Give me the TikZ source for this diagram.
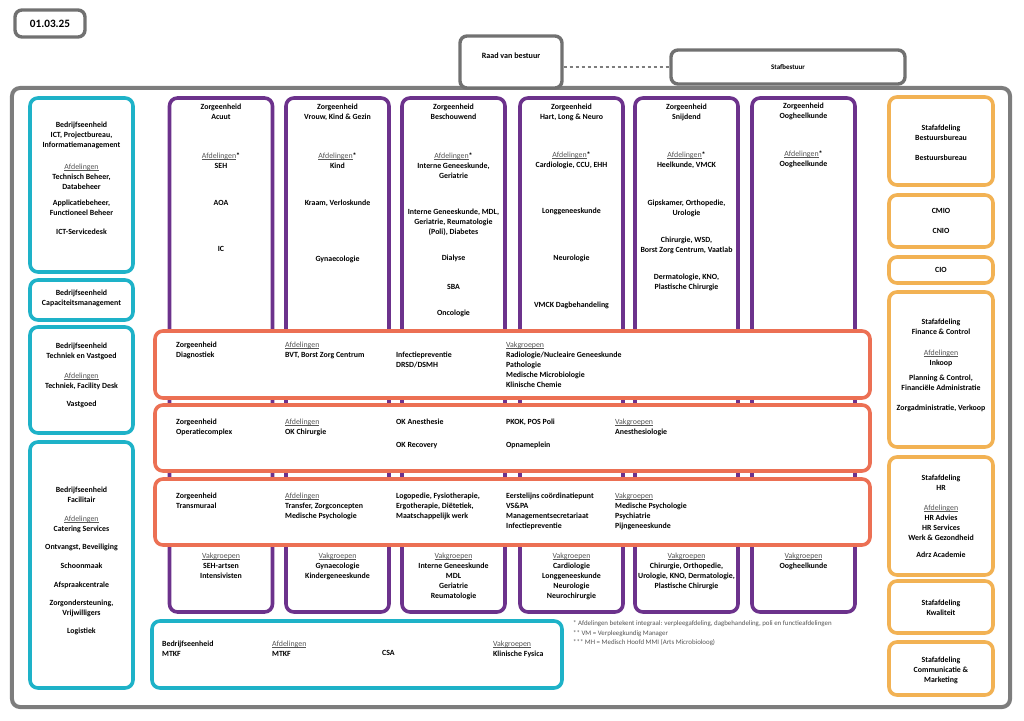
\documentclass[tikz,border=0pt]{standalone}
\usepackage{fontspec}
\setmainfont{Carlito}
\usepackage{tikz}
\usepackage{xcolor}
\usetikzlibrary{positioning}
\definecolor{bedrijf}{RGB}{30,178,200}
\definecolor{zorg}{RGB}{108,50,140}
\definecolor{band}{RGB}{236,112,84}
\definecolor{staf}{RGB}{242,178,84}
\definecolor{rand}{RGB}{125,125,125}
\definecolor{notegray}{RGB}{85,85,85}
\tikzstyle{outerbox} = [rectangle, rounded corners=4mm, draw=rand, line width=2mm, fill=white]
\tikzstyle{topbox} = [rectangle, rounded corners=3.5mm, draw=rand!90!black, line width=1.7mm, fill=white, font=\bfseries\fontsize{10}{12}\selectfont]
\tikzstyle{bedrijfbox} = [rectangle, rounded corners=4mm, draw=bedrijf, line width=1.8mm, fill=white]
\tikzstyle{zorgbox} = [rectangle, rounded corners=4mm, draw=zorg, line width=1.8mm, fill=white]
\tikzstyle{bandbox} = [rectangle, rounded corners=4mm, draw=band, line width=1.8mm, fill=white]
\tikzstyle{stafbox} = [rectangle, rounded corners=4mm, draw=staf, line width=1.8mm, fill=white]
\tikzstyle{boxtext} = [text centered, align=center, anchor=north, inner sep=0pt, font=\bfseries\fontsize{11.2}{14.2}\selectfont]
\tikzstyle{bandtext} = [align=left, anchor=north west, inner sep=0pt, font=\bfseries\fontsize{11.2}{14.2}\selectfont]
\tikzstyle{notetext} = [align=left, anchor=north west, inner sep=0pt, text=notegray, font=\fontsize{9.8}{13.5}\selectfont]
\tikzstyle{dashline} = [draw=rand, line width=0.7mm, dash pattern=on 1.5mm off 1.5mm]
\newcommand{\afd}[1]{{\mdseries\color{notegray}\setbox0\hbox{#1}\rlap{\rule[-1.3pt]{\wd0}{0.6pt}}\box0}}

\begin{document}
\begin{tikzpicture}[x=0.5mm, y=-0.5mm]
    \useasboundingbox (0,0) rectangle (1024,720);

        % Frame and top
        \node (outer) [outerbox, minimum width=499mm, minimum height=309.5mm] at (511,397.5) {};
        \node (date) [topbox, minimum width=35mm, minimum height=13.5mm, font=\bfseries\fontsize{16}{18}\selectfont] at (50,23.5) {01.03.25};
        \node (raad) [topbox, minimum width=51mm, minimum height=26mm] at (511,62) {};
        \node (raad-text) [boxtext, font=\bfseries\fontsize{11.5}{13}\selectfont] at (511,52.5) {Raad van bestuur};
        \node (stafbestuur) [topbox, minimum width=117mm, minimum height=17mm] at (788,67) {Stafbestuur};

        % Bedrijfseenheden
        \node (ict) [bedrijfbox, minimum width=51.5mm, minimum height=87mm] at (81.5,185) {};
        \node (ict-text) [boxtext] at (81.5,121.5) {Bedrijfseenheid\\ ICT, Projectbureau,\\ Informatiemanagement\\[6mm] \afd{Afdelingen}\\ Technisch Beheer,\\ Databeheer\\[3mm] Applicatiebeheer,\\ Functioneel Beheer\\[4.5mm] ICT-Servicedesk};
        \node (cap) [bedrijfbox, minimum width=51.5mm, minimum height=20mm] at (81.5,300) {};
        \node (cap-text) [boxtext] at (81.5,289.5) {Bedrijfseenheid\\ Capaciteitsmanagement};
        \node (techniek) [bedrijfbox, minimum width=51.5mm, minimum height=53mm] at (81.5,380) {};
        \node (techniek-text) [boxtext] at (81.5,342.5) {Bedrijfseenheid\\ Techniek en Vastgoed\\[5mm] \afd{Afdelingen}\\ Techniek, Facility Desk\\[4mm] Vastgoed};
        \node (facilitair) [bedrijfbox, minimum width=51.5mm, minimum height=123mm] at (81.5,565) {};
        \node (facilitair-text) [boxtext] at (81.5,486.5) {Bedrijfseenheid\\ Facilitair\\[4.5mm] \afd{Afdelingen}\\ Catering Services\\[4mm] Ontvangst, Beveiliging\\[4.5mm] Schoonmaak\\[4.5mm] Afspraakcentrale\\[4mm] Zorgondersteuning,\\ Vrijwilligers\\[4mm] Logistiek};
        \node (mtkf) [bedrijfbox, minimum width=205mm, minimum height=33.5mm] at (357,654.5) {};
        \node (mtkf-head) [bandtext] at (162,640.5) {Bedrijfseenheid\\ MTKF};
        \node (mtkf-afd) [bandtext] at (272,640.5) {\afd{Afdelingen}\\ MTKF};
        \node (mtkf-csa) [bandtext] at (382,650.5) {CSA};
        \node (mtkf-vak) [bandtext] at (493,640.5) {\afd{Vakgroepen}\\ Klinische Fysica};

        % Zorgeenheden
        \node (acuut) [zorgbox, minimum width=51.5mm, minimum height=257mm] at (221,355) {};
        \node (vrouw) [zorgbox, minimum width=51.5mm, minimum height=257mm] at (337.5,355) {};
        \node (beschouwend) [zorgbox, minimum width=51.5mm, minimum height=257mm] at (453.5,355) {};
        \node (hln) [zorgbox, minimum width=51.5mm, minimum height=257mm] at (571.5,355) {};
        \node (snijdend) [zorgbox, minimum width=51.5mm, minimum height=257mm] at (686.5,355) {};
        \node (oog) [zorgbox, minimum width=51.5mm, minimum height=257mm] at (803.5,355) {};
        \node (acuut-top) [boxtext] at (221,103.5) {Zorgeenheid\\ Acuut\\[14.5mm] \afd{Afdelingen}*\\ SEH\\[13.5mm] AOA\\[18mm] IC};
        \node (vrouw-top) [boxtext] at (337.5,103.5) {Zorgeenheid\\ Vrouw, Kind \& Gezin\\[14.5mm] \afd{Afdelingen}*\\ Kind\\[13.5mm] Kraam, Verloskunde\\[23mm] Gynaecologie};
        \node (beschouwend-top) [boxtext] at (453.5,103.5) {Zorgeenheid\\ Beschouwend\\[14.5mm] \afd{Afdelingen}*\\ Interne Geneeskunde,\\ Geriatrie\\[13mm] Interne Geneeskunde, MDL,\\ Geriatrie, Reumatologie\\ (Poli), Diabetes\\[8mm] Dialyse\\[9.5mm] SBA\\[8.5mm] Oncologie};
        \node (hln-top) [boxtext] at (571.5,103.5) {Zorgeenheid\\ Hart, Long \& Neuro\\[14mm] \afd{Afdelingen}*\\ Cardiologie, CCU, EHH\\[18mm] Longgeneeskunde\\[18.5mm] Neurologie\\[18.5mm] VMCK Dagbehandeling};
        \node (snijdend-top) [boxtext] at (686.5,103.5) {Zorgeenheid\\ Snijdend\\[14mm] \afd{Afdelingen}*\\ Heelkunde, VMCK\\[14mm] Gipskamer, Orthopedie,\\ Urologie\\[8.5mm] Chirurgie, WSD,\\ Borst Zorg Centrum, Vaatlab\\[8.5mm] Dermatologie, KNO,\\ Plastische Chirurgie};
        \node (oog-top) [boxtext] at (803.5,102.5) {Zorgeenheid\\ Oogheelkunde\\[14mm] \afd{Afdelingen}*\\ Oogheelkunde};
        \node (acuut-vak) [boxtext] at (221,552.5) {\afd{Vakgroepen}\\ SEH-artsen\\ Intensivisten};
        \node (vrouw-vak) [boxtext] at (337.5,552.5) {\afd{Vakgroepen}\\ Gynaecologie\\ Kindergeneeskunde};
        \node (beschouwend-vak) [boxtext] at (453.5,552.5) {\afd{Vakgroepen}\\ Interne Geneeskunde\\ MDL\\ Geriatrie\\ Reumatologie};
        \node (hln-vak) [boxtext] at (571.5,552.5) {\afd{Vakgroepen}\\ Cardiologie\\ Longgeneeskunde\\ Neurologie\\ Neurochirurgie};
        \node (snijdend-vak) [boxtext] at (686.5,552.5) {\afd{Vakgroepen}\\ Chirurgie, Orthopedie,\\ Urologie, KNO, Dermatologie,\\ Plastische Chirurgie};
        \node (oog-vak) [boxtext] at (803.5,552.5) {\afd{Vakgroepen}\\ Oogheelkunde};

        % Bands
        \node (diagnostiek) [bandbox, minimum width=357.5mm, minimum height=33.5mm] at (512.5,364.5) {};
        \node (diagnostiek-head) [bandtext] at (176,341.5) {Zorgeenheid\\ Diagnostiek};
        \node (diagnostiek-afd) [bandtext] at (285,341.5) {\afd{Afdelingen}\\ BVT, Borst Zorg Centrum};
        \node (diagnostiek-inf) [bandtext] at (396,351.5) {Infectiepreventie\\ DRSD/DSMH};
        \node (diagnostiek-vak) [bandtext] at (506,341.5) {\afd{Vakgroepen}\\ Radiologie/Nucleaire Geneeskunde\\ Pathologie\\ Medische Microbiologie\\ Klinische Chemie};
        \node (ok) [bandbox, minimum width=357.5mm, minimum height=33mm] at (512.5,438) {};
        \node (ok-head) [bandtext] at (176,418.5) {Zorgeenheid\\ Operatiecomplex};
        \node (ok-afd) [bandtext] at (285,418.5) {\afd{Afdelingen}\\ OK Chirurgie};
        \node (ok-anes) [bandtext] at (396,418.5) {OK Anesthesie\\[6.5mm] OK Recovery};
        \node (ok-pkok) [bandtext] at (506,418.5) {PKOK, POS Poli\\[6.5mm] Opnameplein};
        \node (ok-vak) [bandtext] at (615,418.5) {\afd{Vakgroepen}\\ Anesthesiologie};
        \node (transmuraal) [bandbox, minimum width=357.5mm, minimum height=33mm] at (512.5,512) {};
        \node (transmuraal-head) [bandtext] at (176,492.5) {Zorgeenheid\\ Transmuraal};
        \node (transmuraal-afd) [bandtext] at (285,492.5) {\afd{Afdelingen}\\ Transfer, Zorgconcepten\\ Medische Psychologie};
        \node (transmuraal-para) [bandtext] at (396,492.5) {Logopedie, Fysiotherapie,\\ Ergotherapie, Diëtetiek,\\ Maatschappelijk werk};
        \node (transmuraal-eerst) [bandtext] at (506,492.5) {Eerstelijns coördinatiepunt\\ VS\&PA\\ Managementsecretariaat\\ Infectiepreventie};
        \node (transmuraal-vak) [bandtext] at (615,492.5) {\afd{Vakgroepen}\\ Medische Psychologie\\ Psychiatrie\\ Pijngeneeskunde};

        % Stafafdelingen
        \node (bestuur) [stafbox, minimum width=52mm, minimum height=44mm] at (941,141) {};
        \node (bestuur-text) [boxtext] at (941,124.5) {Stafafdeling\\ Bestuursbureau\\[5mm] Bestuursbureau};
        \node (cmio) [stafbox, minimum width=52mm, minimum height=26mm] at (941,221) {};
        \node (cmio-text) [boxtext] at (941,208.5) {CMIO\\[5mm] CNIO};
        \node (cio) [stafbox, minimum width=52mm, minimum height=13mm] at (941,270) {};
        \node (cio-text) [boxtext] at (941,267) {CIO};
        \node (finance) [stafbox, minimum width=52mm, minimum height=77.5mm] at (941,369.5) {};
        \node (finance-text) [boxtext] at (941,318.5) {Stafafdeling\\ Finance \& Control\\[5.5mm] \afd{Afdelingen}\\ Inkoop\\[2.5mm] Planning \& Control,\\ Financiële Administratie\\[5mm] Zorgadministratie, Verkoop};
        \node (hr) [stafbox, minimum width=52mm, minimum height=59mm] at (941,516) {};
        \node (hr-text) [boxtext] at (941,474.5) {Stafafdeling\\ HR\\[5mm] \afd{Afdelingen}\\ HR Advies\\ HR Services\\ Werk \& Gezondheid\\[3.5mm] Adrz Academie};
        \node (kwaliteit) [stafbox, minimum width=52mm, minimum height=26mm] at (941,607) {};
        \node (kwaliteit-text) [boxtext] at (941,599.5) {Stafafdeling\\ Kwaliteit};
        \node (communicatie) [stafbox, minimum width=52mm, minimum height=26.5mm] at (941,668.5) {};
        \node (communicatie-text) [boxtext] at (941,656.5) {Stafafdeling\\ Communicatie \&\\ Marketing};

        % Notes
        \node (notes) [notetext] at (573,620.5) {* Afdelingen betekent integraal: verpleegafdeling, dagbehandeling, poli en functieafdelingen\\ ** VM = Verpleegkundig Manager\\ *** MH = Medisch Hoofd MMI (Arts Microbioloog)};

        % Lines
        \draw [dashline] (raad.east |- stafbestuur.west) -- (stafbestuur.west);

    \end{tikzpicture}
\end{document}
